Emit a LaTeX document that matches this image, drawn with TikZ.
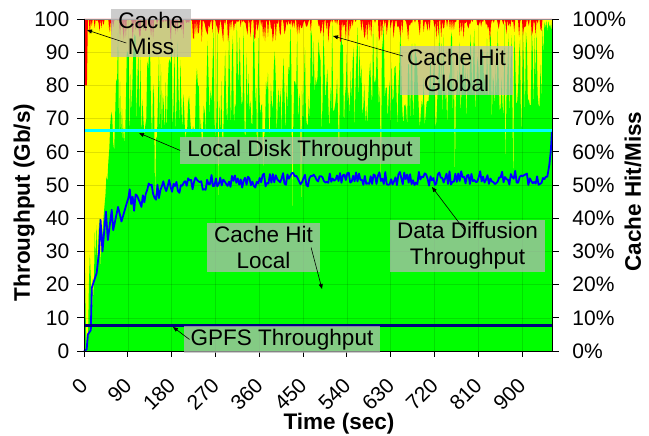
\documentclass[tikz,border=0pt]{standalone}
\usepackage{fontspec}
\setmainfont{Liberation Sans}
\usetikzlibrary{arrows.meta}

\definecolor{hitlocal}{RGB}{0,255,0}
\definecolor{hitglobal}{RGB}{255,255,0}
\definecolor{cachemiss}{RGB}{255,0,0}
\definecolor{diskline}{RGB}{0,255,255}
\definecolor{gpfsline}{RGB}{0,0,128}
\definecolor{tputline}{RGB}{0,0,255}

\tikzset{
  callout/.style={fill=black!28, fill opacity=0.72, text opacity=1, inner xsep=7pt, inner ysep=3pt, align=center, font=\fontsize{22.5}{26}\selectfont},
  pointer/.style={-{Triangle[length=5pt,width=4pt]}, line width=0.6pt},
  ticklabel/.style={inner sep=0pt, font=\fontsize{21}{24}\selectfont},
  axistitle/.style={font=\bfseries\fontsize{22.5}{26}\selectfont},
}

\begin{document}
\begin{tikzpicture}[x=1pt,y=1pt]
            \useasboundingbox (0,0) rectangle (649,436);

            % sampled series
            \pgfmathsetseed{7}
            \gdef\greentop{}
            \gdef\redtop{}
            \foreach \t in {0,2,...,962}{
                \pgfmathsetmacro\base{\t<15 ? 0 : (\t<55 ? 1.5*(\t-15) : 61+8*\t/962)}
                \pgfmathsetmacro\s{rnd}
                \pgfmathsetmacro\w{0.35+0.5*\t/962}
                \pgfmathsetmacro\g{rnd<0.05 ? \base-28*rnd : \base+(99-\base)*\s*(\w+(1-\w)*\s)*(\t<55 ? 0.3 : 1)}
                \pgfmathsetmacro\g{\t>944 ? 96+4*rnd : max(0,min(100,\g))}
                \pgfmathsetmacro\s{rnd}
                \pgfmathsetmacro\d{\t<8 ? 20 : (\t>940 ? 0 : 7*\s*\s*\s)}
                \xdef\greentop{\greentop -- (\t,\g)}
                \xdef\redtop{\redtop -- (\t,100-\d)}
            }
            \gdef\tput{(0,0) -- (5.5,0.5) -- (8,5) -- (14,6.3) -- (16,19) -- (22.6,22) -- (26,23.5) -- (31,30) -- (34,39.5) -- (38,30) -- (45,42) -- (49,33.4) -- (57,42.5) -- (60,36.4) -- (70,43.4) -- (77,39) -- (88,44.6)}
            \foreach \t in {91,94,...,950}{
                \pgfmathsetmacro\v{51.3+0.9*\t/962-6.5*exp(-(\t-90)/80)+(2.2+2*exp(-(\t-90)/60))*rand}
                \xdef\tput{\tput -- (\t,\v)}
            }

            % stacked areas and lines
            \begin{scope}[shift={(84pt,85pt)}, x=0.4867pt, y=3.32pt]
                \fill[hitglobal] (0,0) rectangle (962,100);
                \fill[hitlocal] (0,0) \greentop -- (962,0) -- cycle;
                \fill[cachemiss] (0,100) \redtop -- (962,100) -- cycle;
                \foreach \v in {10,20,...,90}
                    \draw[black, opacity=0.12, line width=0.5pt] (0,\v) -- (962,\v);
                \foreach \t in {90,180,...,900}
                    \draw[black, opacity=0.12, line width=0.5pt] (\t,0) -- (\t,100);
                \draw[diskline, line width=3.2pt] (0,66.4) -- (962,66.4);
                \draw[tputline, line width=1.8pt, line join=round] \tput -- (952,52.5) -- (956,56) -- (959,60) -- (961.5,66);
                \draw[gpfsline, line width=3pt] (0,7.7) -- (962,7.7);
                % axes
                \draw[black!45, line width=0.8pt] (0,100) -- (962,100);
                \draw[line width=0.8pt] (0,100) -- (0,0) -- (962,0) -- (962,100);
                \foreach \v in {0,10,...,100}{
                    \draw[line width=0.8pt] (0,\v) -- ++(-7pt,0);
                    \draw[line width=0.8pt] (962,\v) -- ++(7pt,0);
                    \node[ticklabel, anchor=east] at ([xshift=-14.5pt]0,\v) {\v};
                    \node[ticklabel, anchor=west] at ([xshift=20pt]962,\v) {\v\%};
                }
                \foreach \t in {0,90,...,900}{
                    \draw[line width=0.8pt] (\t,0) -- ++(0,-6pt);
                    \node[ticklabel, anchor=east, rotate=45] at ([yshift=-30.5pt]\t,0) {\t};
                }
            \end{scope}

            % axis titles
            \node[axistitle, rotate=90] (ytitle) at (24,233.5) {Throughput (Gb/s)};
            \node[axistitle, rotate=90] (y2title) at (633,244.5) {Cache Hit/Miss};
            \node[axistitle] (xtitle) at (339,12) {Time (sec)};

            % callouts
            \node[callout] (miss) at (151,403) {Cache\\Miss};
            \node[callout] (global) at (456.5,365.5) {Cache Hit\\Global};
            \node[callout] (disk) at (300,285.5) {Local Disk Throughput};
            \node[callout] (diffusion) at (467.5,190) {Data Diffusion\\Throughput};
            \node[callout] (hitlocal) at (263.5,188.5) {Cache Hit\\Local};
            \node[callout] (gpfs) at (282,96.5) {GPFS Throughput};

            \coordinate (missTip) at (87,406);
            \coordinate (globalTip) at (333,400);
            \coordinate (diskTip) at (139,303);
            \coordinate (diffusionTip) at (432,249);
            \coordinate (hitlocalTip) at (322,147);
            \coordinate (gpfsTip) at (173,109);

            \draw[pointer] ([xshift=15pt,yshift=-10pt]miss.west) -- (missTip);
            \draw[pointer] ([xshift=3pt,yshift=-10pt]global.north west) -- (globalTip);
            \draw[pointer] (disk.west) -- (diskTip);
            \draw[pointer] ([xshift=-3.5pt,yshift=-10pt]diffusion.north) -- (diffusionTip);
            \draw[pointer] ([xshift=-9pt]hitlocal.east) -- (hitlocalTip);
            \draw[pointer] ([xshift=6pt]gpfs.west) -- (gpfsTip);
        \end{tikzpicture}
\end{document}
